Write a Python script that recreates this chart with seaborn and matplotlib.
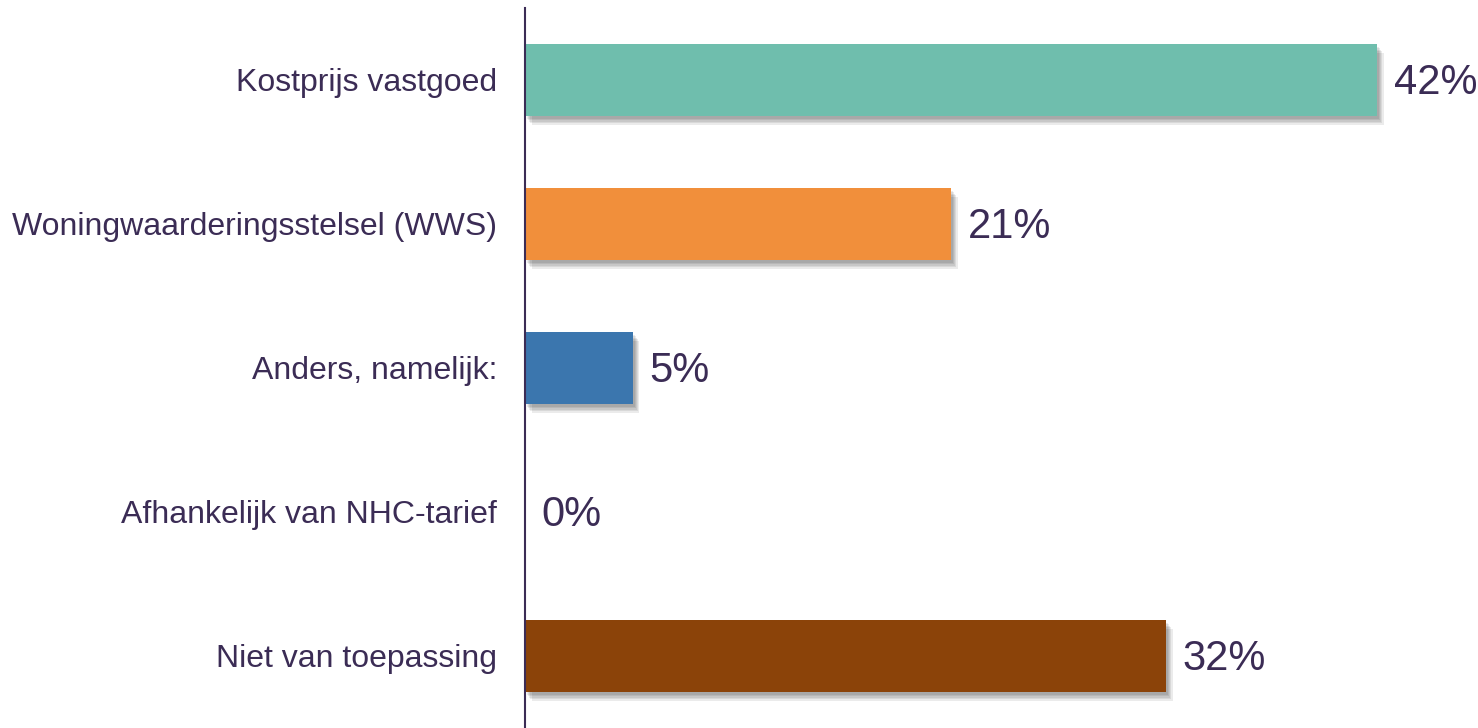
import numpy as np
import pandas as pd
import matplotlib.pyplot as plt
import matplotlib.patheffects as pe
import seaborn as sns

# Data (bar lengths, labels are rounded)
categories = ['Kostprijs vastgoed', 'Woningwaarderingsstelsel (WWS)',
              'Anders, namelijk:', 'Afhankelijk van NHC-tarief', 'Niet van toepassing']
values = [42.0, 21.0, 5.3, 0.0, 31.6]
colors = ['#6FBEAD', '#F18F3B', '#3B76AE', '#A0A0A0', '#8B4309']

TEXT = '#3B2C55'

df = pd.DataFrame({'categorie': categories, 'waarde': values})

sns.set_theme(style='white')
plt.rcParams['font.family'] = ['Liberation Sans', 'DejaVu Sans']

fig = plt.figure(figsize=(14.78, 7.28), dpi=100)
ax = fig.add_axes([525 / 1478, 0.0, 1 - 525 / 1478, 1 - 8 / 728])

sns.barplot(data=df, x='waarde', y='categorie', hue='categorie',
            palette=colors, orient='h', width=0.5, legend=False,
            saturation=1, ax=ax)

# soft drop shadow under the bars
shadow = [pe.SimplePatchShadow(offset=(1.5 + i * 0.8, -2 - i * 1.1),
                               shadow_rgbFace='#000000', alpha=0.08)
          for i in range(5)]
for bar in ax.patches:
    bar.set_edgecolor('none')
    bar.set_path_effects(shadow + [pe.Normal()])

for i, v in enumerate(values):
    ax.annotate(f'{v:.0f}%', xy=(v, i), xytext=(12, -2), textcoords='offset points',
                va='center', ha='left', fontsize=30, color=TEXT)

ax.set_xlim(0, 953 / (852 / 42))
ax.set_ylim(4.5, -0.5)
ax.set_xlabel('')
ax.set_ylabel('')
ax.set_xticks([])
ax.tick_params(axis='y', length=0, pad=20, labelsize=23, labelcolor=TEXT)
for s in ['top', 'right', 'bottom']:
    ax.spines[s].set_visible(False)
ax.spines['left'].set_color(TEXT)
ax.spines['left'].set_linewidth(1.5)
ax.set_facecolor('white')

fig.savefig('out.png', dpi=100, facecolor='white')
